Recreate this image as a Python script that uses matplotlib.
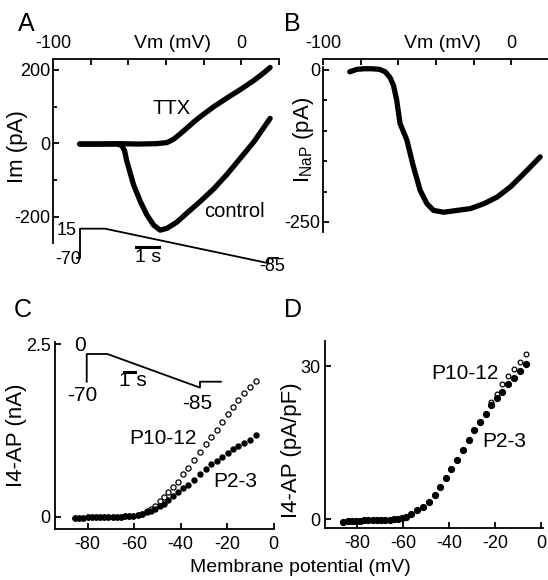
import matplotlib
matplotlib.use("Agg")
import matplotlib.pyplot as plt

W, H = 548, 580
plt.rcParams['font.family'] = ['Liberation Sans', 'DejaVu Sans']
plt.rcParams['axes.unicode_minus'] = False
plt.rcParams['mathtext.fontset'] = 'custom'
plt.rcParams['mathtext.rm'] = 'Liberation Sans'
plt.rcParams['mathtext.it'] = 'Liberation Sans:italic'

# ---- panel A: ramp currents (Vm in mV, I in pA)
ttx_v = [-85.8, -75, -65, -55, -45, -39.5, -36, -32.4, -28.8, -25.3, -21.7, -14.6, -7.5, -0.4, 6.8, 12.1, 15.3]
ttx_i = [-2, -2, -1, -2, -1, 2, 11, 26, 42, 58, 73, 100, 124, 147, 172, 193, 207]
ctrl_v = [-85.8, -75, -66, -63.5, -62.0, -60.9, -57.3, -53.7, -50.2, -46.6, -43.1, -39.5, -34.2,
          -28.8, -21.7, -14.6, -7.5, -0.4, 6.8, 15.3]
ctrl_i = [-2, -2, -2, -6, -20, -47, -112, -158, -195, -223, -237, -232, -215, -190, -158, -124,
          -84, -40, 5, 68]

# ramp protocol (time in s, command in mV)
prot_a_t = [-0.13, 0, 0, 1.07, 8.08, 8.08, 8.5]
prot_a_v = [-70, -70, 15, 15, -85, -70, -70]

# ---- panel B: TTX-sensitive persistent Na current
nap_v = [-85.8, -82, -78, -74, -70, -67, -64.5, -62.6, -60.9, -59.1, -55.5, -52.0, -48.4, -44.8,
         -41.3, -36.0, -28.8, -21.7, -14.6, -7.5, -0.4, 6.8, 15.3]
nap_i = [-3, 1, 2, 2, 1, -3, -12, -25, -49, -88, -115, -159, -198, -220, -231, -234, -231, -228,
         -220, -209, -192, -170, -143]

# ---- panel C: 4-AP sensitive current (nA)
vc = [-85.5, -83.6, -81.9, -80.0, -78.2, -76.4, -74.7, -72.8, -71.1, -69.2,
      -67.4, -65.7, -63.8, -62.1, -60.3, -58.5, -56.6, -54.6, -52.8, -50.9,
      -48.9, -47.0, -45.3, -43.1, -41.0, -38.8, -36.7, -34.1, -31.7, -29.2,
      -27.0, -24.5, -22.1, -19.8, -17.6, -15.2, -12.8, -10.2, -7.6]
p23_c = [-0.01, -0.01, -0.01, -0.005, 0, 0, 0, 0, 0, 0,
         0.005, 0.005, 0.01, 0.01, 0.015, 0.03, 0.04, 0.065, 0.085, 0.115,
         0.155, 0.195, 0.245, 0.31, 0.36, 0.415, 0.47, 0.535, 0.615, 0.69,
         0.76, 0.81, 0.87, 0.93, 0.98, 1.03, 1.075, 1.12, 1.185]
p1012_c = [-0.01, -0.01, -0.01, -0.005, 0, 0, 0, 0, 0, 0,
           0.005, 0.005, 0.01, 0.01, 0.015, 0.03, 0.05, 0.08, 0.12, 0.16,
           0.23, 0.29, 0.36, 0.43, 0.51, 0.617, 0.71, 0.82, 0.94, 1.05,
           1.16, 1.26, 1.38, 1.49, 1.59, 1.69, 1.79, 1.88, 1.97]

prot_c_t = [0, 0, 1.87, 10.3, 10.3, 12.2]
prot_c_v = [-70, 0, 0, -85, -70, -70]

# ---- panel D: 4-AP current density (pA/pF)
vd = [-86.0, -84.1, -82.3, -80.5, -78.6, -76.8, -75.0, -73.2, -71.3, -69.6,
      -67.7, -65.8, -63.9, -62.0, -60.5, -58.7, -56.3, -53.7, -51.2, -48.6,
      -46.2, -43.7, -41.3, -39.0, -36.5, -34.1, -31.5, -29.0, -26.4, -23.9,
      -21.6, -19.2, -16.8, -14.2, -11.7, -9.1, -6.6]
p23_d = [-0.5, -0.4, -0.4, -0.3, -0.3, -0.2, -0.2, -0.2, -0.2, -0.1,
         -0.1, -0.1, 0.0, 0.1, 0.2, 0.4, 1.0, 1.8, 2.5, 3.4,
         4.7, 6.3, 8.0, 9.8, 11.6, 13.5, 15.5, 17.5, 19.1, 20.7,
         22.4, 23.7, 25.0, 26.4, 27.6, 29.1, 30.4]
p1012_d = p23_d[:30] + [23.0, 24.6, 26.4, 28.0, 29.5, 30.8, 32.4]


def box(l, t, r, b):
    return [l / W, 1 - b / H, (r - l) / W, (b - t) / H]


def px(x, y):
    return x / W, 1 - y / H


fig = plt.figure(figsize=(W / 100, H / 100), dpi=100)
SP = 1.3
FS = 13
LW = 3.8


def top_axis(ax, ylim, ytop):
    ax.set_xlim(-100, 20)
    ax.set_ylim(*ylim)
    ax.patch.set_alpha(0)
    for s in ['right', 'bottom']:
        ax.spines[s].set_visible(False)
    for s in ['top', 'left']:
        ax.spines[s].set_linewidth(SP)
    ax.spines['left'].set_bounds(ylim[0], ytop)
    ax.xaxis.tick_top()
    ax.set_xticks([-100, -80, -60, -40, -20, 0, 20])
    ax.set_xticklabels(['-100', '', '', '', '', '0', ''])
    ax.tick_params(axis='x', direction='in', length=4, width=SP, pad=5, labelsize=FS)
    ax.tick_params(axis='y', direction='in', length=4, width=SP, pad=2, labelsize=FS)
    ax.tick_params(axis='y', which='minor', direction='in', length=3, width=SP)


# A
axA = fig.add_axes(box(53, 59, 279, 243))
axA.plot(ttx_v, ttx_i, color='black', lw=LW, solid_capstyle='round', solid_joinstyle='round')
axA.plot(ctrl_v, ctrl_i, color='black', lw=LW, solid_capstyle='round', solid_joinstyle='round')
top_axis(axA, (-272, 230), 214)
axA.set_yticks([-200, 0, 200])
axA.set_yticks([-100, 100], minor=True)
axA.text(-37, 95, 'TTX', fontsize=14.5, ha='center', va='center')
axA.text(-3.9, -187, 'control', fontsize=14.5, ha='center', va='center')

insA = fig.add_axes(box(55, 215, 285, 275))
insA.axis('off')
insA.set_xlim(-1.073, 8.798)
insA.set_ylim(-119.3, 54.6)
insA.plot(prot_a_t, prot_a_v, color='black', lw=1.3)
insA.plot([2.4, 3.4], [-38, -38], color='black', lw=2.2)
insA.text(-0.56, 11, '15', fontsize=FS, ha='center', va='center')
insA.text(-0.52, -73, '-70', fontsize=FS, ha='center', va='center')
insA.text(8.24, -96, '-85', fontsize=FS, ha='center', va='center')
insA.text(2.92, -68, '1 s', fontsize=14, ha='center', va='center')

# B
axB = fig.add_axes(box(323, 59, 549, 232))
axB.plot(nap_v, nap_i, color='black', lw=LW, solid_capstyle='round', solid_joinstyle='round')
top_axis(axB, (-266.5, 18), 5)
axB.set_yticks([-250, 0])
axB.set_yticks([-200, -150, -100, -50], minor=True)


def bottom_axis(ax, xlim, ylim, yticks, ylabels):
    ax.set_xlim(*xlim)
    ax.set_ylim(*ylim)
    ax.patch.set_alpha(0)
    for s in ['right', 'top']:
        ax.spines[s].set_visible(False)
    for s in ['bottom', 'left']:
        ax.spines[s].set_linewidth(SP)
    ax.set_xticks([-80, -60, -40, -20, 0])
    ax.set_yticks(yticks)
    ax.set_yticklabels(ylabels)
    ax.tick_params(axis='both', direction='in', length=4, width=SP, labelsize=FS)
    ax.tick_params(axis='x', pad=5)
    ax.tick_params(axis='y', pad=3)


# C
axC = fig.add_axes(box(55, 342, 274, 529))
axC.plot(vc, p1012_c, 'o', ms=3.7, mfc='white', mec='black', mew=0.9, ls='none')
axC.plot(vc, p23_c, 'o', ms=3.6, color='black', ls='none')
bottom_axis(axC, (-94, 0.2), (-0.174, 2.533), [0, 2.5], ['0', '2.5'])
axC.text(-47.7, 1.14, 'P10-12', fontsize=15, ha='center', va='center')
axC.text(-16.6, 0.51, 'P2-3', fontsize=15, ha='center', va='center')

insC = fig.add_axes(box(60, 335, 230, 415))
insC.axis('off')
insC.set_xlim(-2.43, 13.03)
insC.set_ylim(-154.1, 47.9)
insC.plot(prot_c_t, prot_c_v, color='black', lw=1.3)
insC.plot([3.39, 4.39], [-44.7, -44.7], color='black', lw=2.2)
insC.text(-0.61, 22, '0', fontsize=15, ha='center', va='center')
insC.text(-0.43, -106, '-70', fontsize=15, ha='center', va='center')
insC.text(10.03, -124, '-85', fontsize=15, ha='center', va='center')
insC.text(4.2, -68, '1 s', fontsize=15, ha='center', va='center')

# D
axD = fig.add_axes(box(325, 341, 543, 528))
axD.plot(vd, p1012_d, 'o', ms=3.4, mfc='white', mec='black', mew=0.9, ls='none')
axD.plot(vd, p23_d, 'o', ms=4.2, color='black', ls='none')
bottom_axis(axD, (-93.9, 0.87), (-1.70, 34.9), [0, 30], ['0', '30'])
axD.text(-33, 28.6, 'P10-12', fontsize=15, ha='center', va='center')
axD.text(-16.1, 15.3, 'P2-3', fontsize=15, ha='center', va='center')

# axis titles and panel letters
fig.text(*px(172, 43), 'Vm (mV)', fontsize=14, ha='center', va='center')
fig.text(*px(442, 43), 'Vm (mV)', fontsize=14, ha='center', va='center')
fig.text(*px(18, 147), 'Im (pA)', fontsize=16, rotation=90, ha='center', va='center')
fig.text(*px(303, 140), r'I$_{\mathrm{NaP}}$ (pA)', fontsize=16, rotation=90, ha='center', va='center')
fig.text(*px(17, 435), 'I4-AP (nA)', fontsize=16, rotation=90, ha='center', va='center')
fig.text(*px(291, 450), 'I4-AP (pA/pF)', fontsize=16, rotation=90, ha='center', va='center')
fig.text(*px(300, 568), 'Membrane potential (mV)', fontsize=14, ha='center', va='center')

for letter, x, y in [('A', 26, 24), ('B', 292, 24), ('C', 23, 310), ('D', 293, 310)]:
    fig.text(*px(x, y), letter, fontsize=18, ha='center', va='center')

fig.savefig('out.png', dpi=100)
